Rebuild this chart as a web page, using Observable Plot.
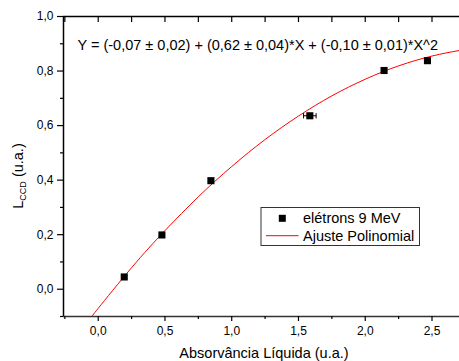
<!DOCTYPE html>
<html><head><meta charset="utf-8">
<script src="https://cdn.jsdelivr.net/npm/d3@7"></script>
<script src="https://cdn.jsdelivr.net/npm/@observablehq/plot@0.6"></script>
<style>
body{margin:0;background:#fff}
svg{font-family:"Liberation Sans",Arial,sans-serif}
</style>
</head><body><div id="chart"></div>
<script>
// Data points (elétrons 9 MeV)
const absX = [0.195, 0.477, 0.844, 1.585, 2.141, 2.466];
const lccdY = [0.045, 0.199, 0.398, 0.636, 0.802, 0.838];
const errX  = [0, 0, 0, 0.047, 0, 0];
// Fitted polynomial curve
const fitX = [-0.05, 0, 0.25, 0.5, 0.75, 1.0, 1.25, 1.5, 1.75, 2.0, 2.25, 2.5, 2.7];
const fitY = [-0.101, -0.07, 0.079, 0.215, 0.339, 0.45, 0.549, 0.635, 0.709, 0.77, 0.819, 0.855, 0.875];
// Ticks
const yTicks = [0, 0.2, 0.4, 0.6, 0.8, 1.0];
const yMinor = [-0.1, 0.1, 0.3, 0.5, 0.7, 0.9];
const xTicks = [0, 0.5, 1.0, 1.5, 2.0, 2.5];
const xMinor = [-0.25, 0.25, 0.75, 1.25, 1.75, 2.25];
const xTop = [-0.25, 0, 0.25, 0.5, 0.75, 1.0, 1.25, 1.5, 1.75, 2.0, 2.25, 2.5];
const equation = "Y = (-0,07 \u00b1 0,02) + (0,62 \u00b1 0,04)*X + (-0,10 \u00b1 0,01)*X^2";
const xTitle = "Absorvância Líquida (u.a.)";
const legendLabels = ["elétrons 9 MeV", "Ajuste Polinomial"];

const fmt = d => d3.format(".1f")(d).replace(".", ",");
const pts = absX.map((x, i) => ({x, y: lccdY[i], e: errX[i]}));
const fit = fitX.map((x, i) => ({x, y: fitY[i]}));
const errPts = pts.filter(d => d.e > 0);
const caps = errPts.flatMap(d => [{x: d.x - d.e, y: d.y}, {x: d.x + d.e, y: d.y}]);
const capSymbol = {draw(ctx, size) { const h = Math.sqrt(size); ctx.moveTo(0, -h); ctx.lineTo(0, h); }};
const blank = () => "";

const plot = Plot.plot({
  width: 459, height: 361,
  marginLeft: 63, marginRight: 0, marginTop: 16, marginBottom: 45,
  style: {fontFamily: '"Liberation Sans", Arial, sans-serif', fontSize: "12px", background: "#fff", color: "#000"},
  x: {domain: [-0.26, 2.706]},
  y: {domain: [-0.1, 1.0]},
  marks: [
    Plot.line(fit, {x: "x", y: "y", stroke: "#ff0000", strokeWidth: 1, curve: "natural", clip: true}),
    Plot.link(errPts, {x1: d => d.x - d.e, x2: d => d.x + d.e, y1: "y", y2: "y", stroke: "#000", strokeWidth: 1}),
    Plot.dot(caps, {x: "x", y: "y", symbol: capSymbol, r: 1.5, stroke: "#000", strokeWidth: 1}),
    Plot.dot(pts, {x: "x", y: "y", symbol: "square", r: 4, fill: "#000"}),
    Plot.ruleX([-0.26], {stroke: "#000", strokeWidth: 1.5}),
    Plot.ruleY([-0.1], {stroke: "#333", strokeWidth: 1.5}),
    Plot.ruleY([1.0], {stroke: "#000", strokeWidth: 1.5}),
    Plot.axisY(yTicks, {tickSize: 6, tickPadding: 4, tickFormat: fmt, label: null, strokeWidth: 1.2}),
    Plot.axisY(yMinor, {tickSize: 3, tickFormat: blank, label: null, strokeWidth: 1.2}),
    Plot.axisX(xTicks, {tickSize: 5, tickPadding: 5, tickFormat: fmt, label: null, strokeWidth: 1.2}),
    Plot.axisX(xMinor, {tickSize: 3, tickFormat: blank, label: null, strokeWidth: 1.2}),
    Plot.axisX(xTop, {anchor: "top", tickSize: 5, dy: 5, tickFormat: blank, label: null, strokeWidth: 1.2}),
    Plot.text([equation], {frameAnchor: "top-left", dx: 14, dy: 23, textAnchor: "start", fontSize: 14.5, fill: "#000"})
  ]
});

const svg = d3.select(plot);
svg.append("text").attr("x", 264).attr("y", 357.5).attr("text-anchor", "middle")
  .attr("font-size", 14.5).attr("fill", "#000").text(xTitle);
const yl = svg.append("text").attr("transform", "translate(23,176) rotate(-90)")
  .attr("text-anchor", "middle").attr("font-size", 14.5).attr("fill", "#000");
yl.append("tspan").text("L");
yl.append("tspan").attr("font-size", 9).attr("dy", 3).text("CCD");
yl.append("tspan").attr("dy", -3).text(" (u.a.)");

// Legend
const lg = svg.append("g").attr("text-anchor", "start");
lg.append("rect").attr("x", 261).attr("y", 207.5).attr("width", 158.5).attr("height", 38)
  .attr("fill", "#fff").attr("stroke", "#333").attr("stroke-width", 1);
lg.append("rect").attr("x", 278.8).attr("y", 214.8).attr("width", 7).attr("height", 7).attr("fill", "#000");
lg.append("line").attr("x1", 266).attr("x2", 298.5).attr("y1", 235.7).attr("y2", 235.7)
  .attr("stroke", "#ff0000").attr("stroke-width", 1);
lg.append("text").attr("x", 303).attr("y", 223.3).attr("text-anchor", "start").attr("font-size", 14.5).attr("fill", "#000").text(legendLabels[0]);
lg.append("text").attr("x", 303).attr("y", 241).attr("text-anchor", "start").attr("font-size", 14.5).attr("fill", "#000").text(legendLabels[1]);

document.getElementById("chart").appendChild(plot);
</script>
</body></html>
